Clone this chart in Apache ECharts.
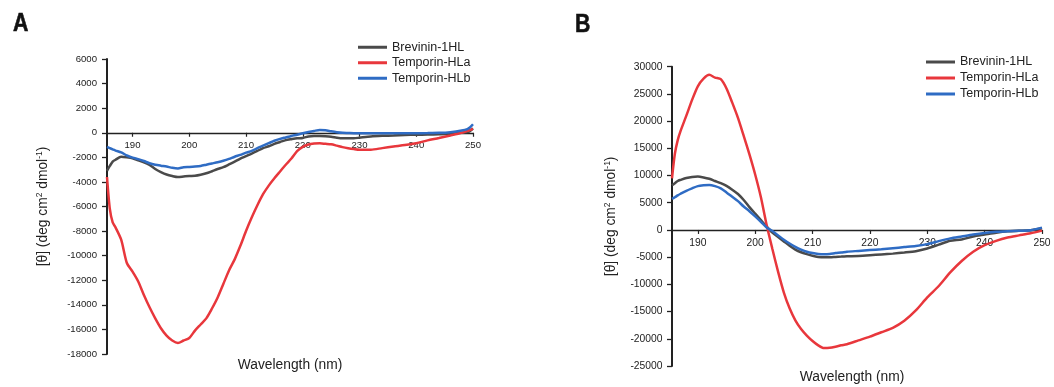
<!DOCTYPE html>
<html>
<head>
<meta charset="utf-8">
<script src="https://cdn.jsdelivr.net/npm/echarts@6/dist/echarts.min.js"></script>
<style>
html,body{margin:0;padding:0;background:#fff;}
#chart{width:1054px;height:387px;}
</style>
</head>
<body>
<div id="chart"></div>
<script>
// ---------- DATA ----------
const seriesNames = ['Brevinin-1HL', 'Temporin-HLa', 'Temporin-HLb'];
const xTickValues = [190, 200, 210, 220, 230, 240, 250];
const yTicksA = { min: -18000, max: 6000, step: 2000 };
const yTicksB = { min: -25000, max: 30000, step: 5000 };

// Panel A
const wavelengthA = [185.5,186,186.5,187,188,189,190,191,192,193,194,195,196,197,198,199,200,201,202,203,204,205,206,207,208,209,210,211,212,213,214,215,216,217,218,219,220,221,222,223,224,225,226,227,228,229,230,232,234,236,238,240,242,244,246,248,249,249.5,250];
const brevininA = [-3100,-2700,-2350,-2200,-1950,-2000,-2080,-2250,-2400,-2620,-2950,-3200,-3400,-3520,-3600,-3560,-3520,-3500,-3420,-3300,-3130,-2950,-2800,-2580,-2350,-2100,-1900,-1700,-1480,-1250,-1100,-900,-750,-600,-520,-450,-420,-300,-260,-260,-280,-320,-400,-450,-450,-450,-400,-300,-250,-220,-180,-160,-150,-120,-80,0,50,150,360];
const temporinHLaA = [-3600,-6200,-7300,-7700,-8700,-10600,-11300,-12100,-13200,-14200,-15100,-15900,-16500,-16900,-17100,-16900,-16700,-16100,-15600,-15100,-14300,-13400,-12300,-11200,-10300,-9200,-8000,-6900,-5900,-5000,-4300,-3700,-3150,-2600,-2100,-1500,-1150,-950,-880,-860,-900,-940,-1050,-1170,-1260,-1330,-1380,-1380,-1250,-1120,-1000,-850,-620,-430,-220,0,150,230,310];
const temporinHLbA = [-1150,-1250,-1350,-1450,-1600,-1850,-2020,-2150,-2300,-2480,-2600,-2680,-2750,-2850,-2900,-2800,-2780,-2750,-2700,-2600,-2500,-2400,-2280,-2130,-1950,-1800,-1620,-1480,-1250,-1050,-850,-650,-500,-380,-260,-160,-40,60,150,230,200,120,50,0,-20,-40,-40,-40,-40,-40,-40,-40,-30,-10,50,180,300,450,690];

// Panel B
const wavelengthB = [185.5,186,186.5,187,188,189,190,191,192,193,194,195,196,197,198,199,200,201,202,203,204,205,206,207,208,209,210,211,212,213,214,215,216,218,220,222,224,226,228,230,232,234,236,238,240,242,244,246,248,250];
const brevininB = [8200,8600,9000,9200,9550,9750,9800,9650,9400,9000,8600,8100,7400,6600,5500,4200,3000,1800,600,-500,-1300,-2100,-2900,-3600,-4100,-4450,-4750,-4950,-5020,-5000,-4950,-4900,-4850,-4780,-4650,-4500,-4350,-4150,-3900,-3400,-2700,-2000,-1750,-1200,-850,-500,-250,-150,-50,300];
const temporinHLaB = [9500,14000,16500,18200,21000,23900,26400,27800,28500,28000,27700,26000,23400,20600,17300,13900,10200,6000,900,-3500,-7700,-11500,-14400,-16600,-18200,-19400,-20400,-21200,-21700,-21650,-21450,-21200,-21000,-20300,-19600,-18800,-18000,-16700,-14800,-12400,-10300,-7800,-5700,-4000,-2800,-2000,-1400,-1000,-600,-120];
const temporinHLbB = [5700,6000,6350,6650,7200,7650,8050,8200,8270,8050,7650,6900,6100,5300,4300,3450,2500,1500,450,-200,-1000,-1800,-2500,-3100,-3600,-4000,-4250,-4400,-4450,-4400,-4250,-4150,-4000,-3850,-3700,-3550,-3350,-3150,-2950,-2600,-2050,-1550,-1200,-850,-560,-350,-250,-150,-50,430];

// ---------- STYLE ----------
const colors = { 'Brevinin-1HL': '#4a4a4a', 'Temporin-HLa': '#e8373c', 'Temporin-HLb': '#2f6cc4' };
const FONT = '"Liberation Sans", Arial, sans-serif';
const pair = (xs, ys) => xs.map((x, i) => [x, ys[i]]);

const gridA = { left: 107, top: 59, width: 366, height: 295 };
const gridB = { left: 672, top: 66.7, width: 370, height: 299.3 };
// distance from grid bottom up to the zero line (derived from the axis range)
const zeroOffset = (g, t) => -g.height * (0 - t.min) / (t.max - t.min);

function xAxisFor(gridIndex, fs, margin, offset) {
  return {
    type: 'value', gridIndex, min: 185.5, max: 250, position: 'bottom', offset: offset, z: 1,
    axisLine: { show: true, onZero: false, lineStyle: { color: '#222', width: 1.3 } },
    axisTick: { show: true, customValues: xTickValues, length: 4, inside: false, lineStyle: { color: '#222', width: 1.2 } },
    axisLabel: { show: true, customValues: xTickValues, margin: margin, fontSize: fs, color: '#222', fontFamily: FONT, formatter: v => String(v) },
    splitLine: { show: false }, minorTick: { show: false }
  };
}
function yAxisFor(gridIndex, t, fs, gap, margin) {
  return {
    type: 'value', gridIndex, min: t.min, max: t.max, interval: t.step,
    name: '[θ] (deg cm{sup|2} dmol{sup|-1})', nameLocation: 'middle', nameRotate: 90, nameGap: gap,
    nameTextStyle: { fontSize: 13.8, color: '#222', fontFamily: FONT, lineHeight: 16,
      rich: { sup: { fontSize: 8.5, verticalAlign: 'top', lineHeight: 16, color: '#222', fontFamily: FONT } } },
    axisLine: { show: true, lineStyle: { color: '#222', width: 2 } },
    axisTick: { show: true, length: 5, inside: false, lineStyle: { color: '#222', width: 1.3 } },
    axisLabel: { margin: margin, fontSize: fs, color: '#222', fontFamily: FONT, formatter: v => String(v) },
    splitLine: { show: false }
  };
}
function lineSeries(name, xi, yi, data) {
  return {
    type: 'line', name, xAxisIndex: xi, yAxisIndex: yi, data,
    showSymbol: false, symbol: 'none', smooth: 0.25,
    lineStyle: { color: colors[name], width: 2.5 }, itemStyle: { color: colors[name] },
    animation: false, z: name === 'Temporin-HLb' ? 6 : 5
  };
}
function legendAt(left, top, lh) {
  return {
    orient: 'vertical', left, top, padding: 0, itemGap: 0,
    icon: 'rect', itemWidth: 29, itemHeight: 3, selectedMode: false,
    data: seriesNames,
    textStyle: { fontSize: 12.5, lineHeight: lh, color: '#222', fontFamily: FONT }
  };
}
const panelLetter = (txt, x, y) => ({
  type: 'text', x, y, scaleX: 0.82,
  style: { text: txt, font: 'bold 26px "Liberation Sans", Arial, sans-serif', fill: '#111', stroke: '#111', lineWidth: 0.6 }
});

const chart = echarts.init(document.getElementById('chart'), null, { renderer: 'canvas' });
chart.setOption({
  backgroundColor: '#ffffff',
  animation: false,
  grid: [
    Object.assign({ outerBoundsMode: 'none', containLabel: false }, gridA),
    Object.assign({ outerBoundsMode: 'none', containLabel: false }, gridB)
  ],
  xAxis: [xAxisFor(0, 9.6, 8, zeroOffset(gridA, yTicksA)), xAxisFor(1, 10.3, 8.5, zeroOffset(gridB, yTicksB))],
  yAxis: [yAxisFor(0, yTicksA, 9.6, 56, 10), yAxisFor(1, yTicksB, 10.3, 53, 9.5)],
  legend: [legendAt(358, 39.5, 15.5), legendAt(926, 54, 16)],
  series: [
    lineSeries('Brevinin-1HL', 0, 0, pair(wavelengthA, brevininA)),
    lineSeries('Temporin-HLa', 0, 0, pair(wavelengthA, temporinHLaA)),
    lineSeries('Temporin-HLb', 0, 0, pair(wavelengthA, temporinHLbA)),
    lineSeries('Brevinin-1HL', 1, 1, pair(wavelengthB, brevininB)),
    lineSeries('Temporin-HLa', 1, 1, pair(wavelengthB, temporinHLaB)),
    lineSeries('Temporin-HLb', 1, 1, pair(wavelengthB, temporinHLbB))
  ],
  graphic: [
    panelLetter('A', 13, 11),
    panelLetter('B', 575, 12),
    { type: 'text', x: 290, y: 365, style: { text: 'Wavelength (nm)', fontSize: 13.8, fontFamily: FONT, fill: '#222', align: 'center', verticalAlign: 'middle' } },
    { type: 'text', x: 852, y: 377, style: { text: 'Wavelength (nm)', fontSize: 13.8, fontFamily: FONT, fill: '#222', align: 'center', verticalAlign: 'middle' } }
  ]
});
</script>
</body>
</html>
